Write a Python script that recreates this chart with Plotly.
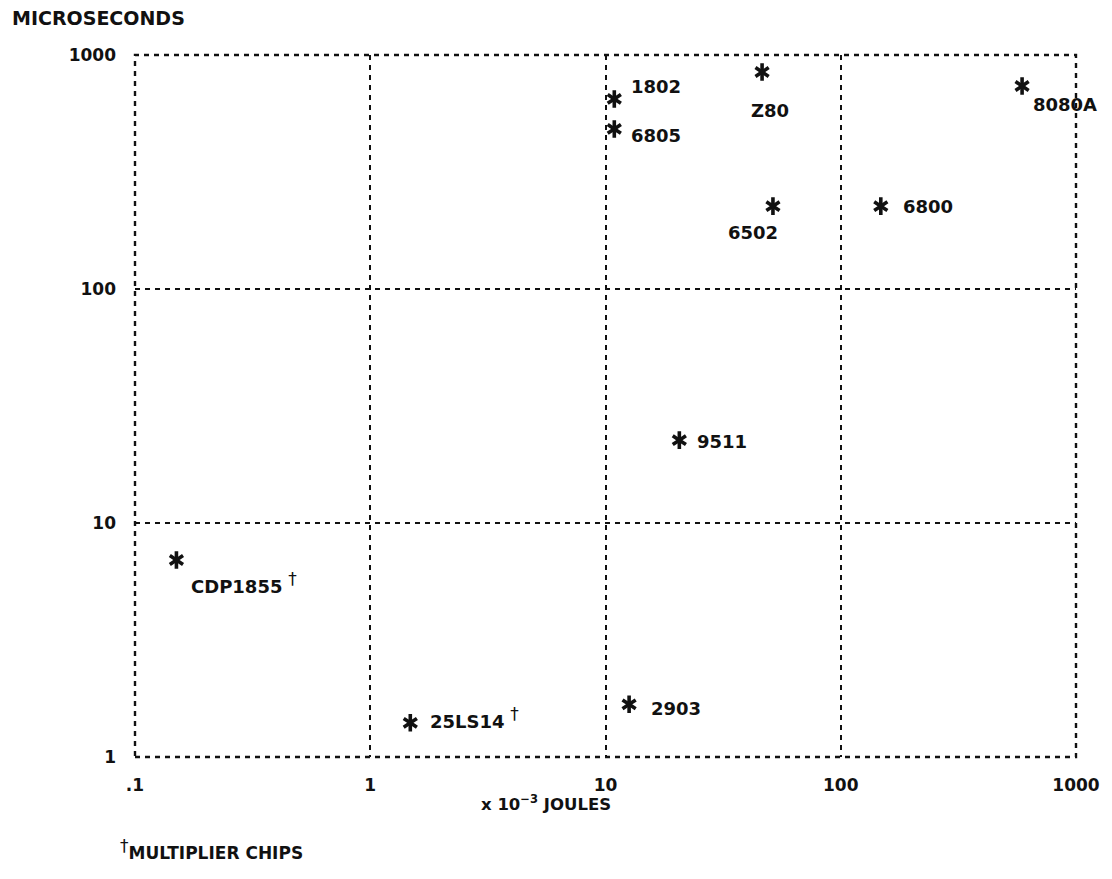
import math
import plotly.graph_objects as go

# Energy per operation (x 10^-3 joules) and execution time (microseconds)
chips = ["1802", "6805", "Z80", "6502", "6800", "8080A", "9511", "CDP1855", "25LS14", "2903"]
energy_mj = [10.9, 10.9, 46.3, 51.5, 148, 590, 20.6, 0.15, 1.48, 12.6]
time_us = [649, 483, 846, 226, 226, 737, 22.6, 6.95, 1.40, 1.68]
multiplier = [False, False, False, False, False, False, False, True, True, False]

# label placement: (xshift, yshift, xanchor)
label_offsets = {
    "1802": (15, 12, "left"),
    "6805": (15, -7, "left"),
    "Z80": (8, -38, "center"),
    "6502": (-20, -26, "center"),
    "6800": (20, 0, "left"),
    "8080A": (9, -18, "left"),
    "9511": (16, -1, "left"),
    "CDP1855": (13, -23, "left"),
    "25LS14": (18, 5, "left"),
    "2903": (20, -4, "left"),
}

tick_vals_x = [0.1, 1, 10, 100, 1000]
tick_text_x = [".1", "1", "10", "100", "1000"]
tick_vals_y = [1, 10, 100, 1000]
tick_text_y = ["1", "10", "100", "1000"]

FONT = "DejaVu Sans"
INK = "#111111"
DAGGER = "<sup><span style='font-size:17px'>†</span></sup>"

W, H = 1112, 879
L, R, T, B = 135, 34, 55, 122


def page_xy(px, py):
    """Page pixel position -> paper coordinates."""
    return (px - L) / (W - L - R), 1 - (py - T) / (H - T - B)


def bold(items):
    return [f"<b>{s}</b>" for s in items]


fig = go.Figure()

# six-armed asterisk built from two three-armed symbols
for sym in ("y-up-open", "y-down-open"):
    fig.add_trace(go.Scatter(
        x=energy_mj, y=time_us, mode="markers",
        marker=dict(symbol=sym, size=11, color=INK,
                    line=dict(color=INK, width=3.6)),
        hoverinfo="skip", showlegend=False,
    ))

for name, xv, yv, mult in zip(chips, energy_mj, time_us, multiplier):
    dx, dy, anchor = label_offsets[name]
    label = f"<b>{name}</b>" + (" " + DAGGER if mult else "")
    fig.add_annotation(
        x=math.log10(xv), y=math.log10(yv), xref="x", yref="y",
        text=label, showarrow=False, xanchor=anchor, yanchor="middle",
        xshift=dx, yshift=dy, font=dict(family=FONT, size=18, color=INK),
    )

grid = dict(showgrid=True, gridcolor=INK, gridwidth=2.4, griddash="5px,5px",
            zeroline=False, showline=False, ticks="")

fig.update_xaxes(type="log", range=[-1, 3], tickvals=tick_vals_x, ticktext=bold(tick_text_x),
                 tickfont=dict(family=FONT, size=17, color=INK), ticklabelstandoff=16,
                 **grid)
fig.update_yaxes(type="log", range=[0, 3], tickvals=tick_vals_y, ticktext=bold(tick_text_y),
                 tickfont=dict(family=FONT, size=17, color=INK), ticklabelstandoff=18,
                 **grid)

# dashed frame round the plotting area
fig.add_shape(type="rect", xref="paper", yref="paper", x0=0, x1=1, y0=0, y1=1,
              line=dict(color=INK, width=2.4, dash="5px,5px"))

page_texts = [
    (10, 18, "<b>MICROSECONDS</b>", "left", 19),
    (547, 803, "<b>x 10<sup>−3</sup> JOULES</b>", "center", 16.5),
    (118, 849, DAGGER + "<b>MULTIPLIER CHIPS</b>", "left", 17),
]
for px, py, txt, anchor, size in page_texts:
    ax, ay = page_xy(px, py)
    fig.add_annotation(x=ax, y=ay, xref="paper", yref="paper", text=txt,
                       showarrow=False, xanchor=anchor, yanchor="middle",
                       font=dict(family=FONT, size=size, color=INK))

fig.update_layout(
    width=W, height=H,
    margin=dict(l=L, r=R, t=T, b=B),
    paper_bgcolor="white", plot_bgcolor="white",
    showlegend=False,
)

fig.write_html("out.html")
